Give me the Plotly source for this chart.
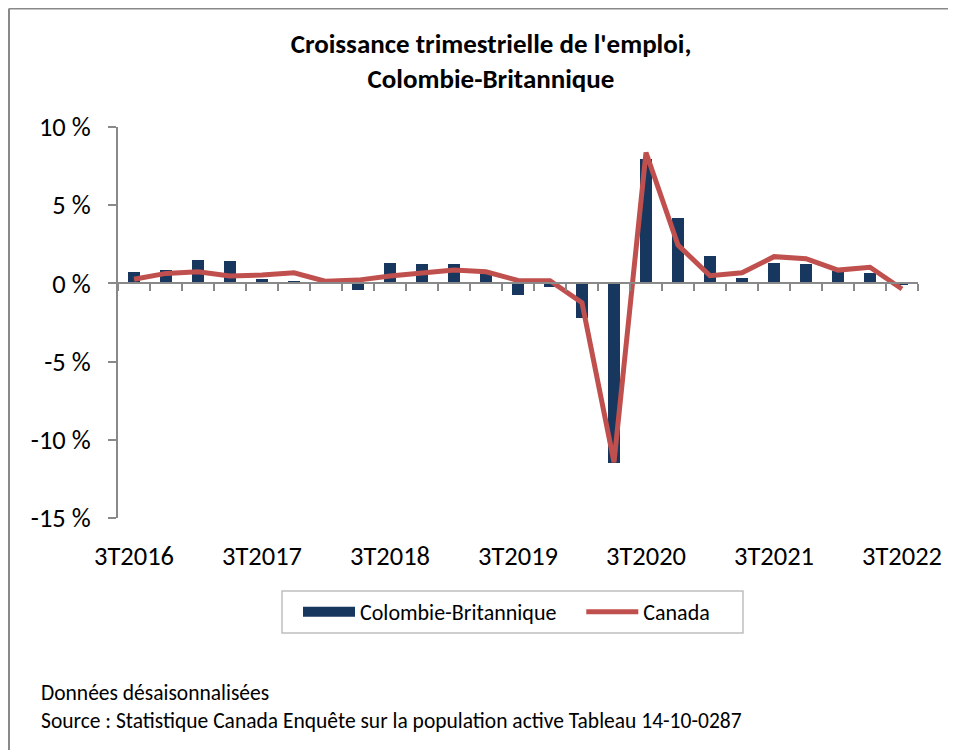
import plotly.graph_objects as go

quarters = ["3T2016", "4T2016", "1T2017", "2T2017", "3T2017", "4T2017", "1T2018", "2T2018",
            "3T2018", "4T2018", "1T2019", "2T2019", "3T2019", "4T2019", "1T2020", "2T2020",
            "3T2020", "4T2020", "1T2021", "2T2021", "3T2021", "4T2021", "1T2022", "2T2022",
            "3T2022"]
cb_values = [0.74, 0.85, 1.49, 1.45, 0.30, 0.15, 0.05, -0.43, 1.28, 1.22, 1.22, 0.60,
             -0.77, -0.20, -2.18, -11.5, 7.95, 4.17, 1.75, 0.35, 1.32, 1.24, 0.80, 0.64, -0.10]
canada_values = [0.26, 0.64, 0.74, 0.47, 0.53, 0.68, 0.13, 0.21, 0.47, 0.64, 0.85, 0.74,
                 0.19, 0.17, -1.24, -11.43, 8.37, 2.45, 0.49, 0.68, 1.71, 1.58, 0.85, 1.03, -0.36]
tick_labels = ["3T2016", "3T2017", "3T2018", "3T2019", "3T2020", "3T2021", "3T2022"]
y_ticks = [10, 5, 0, -5, -10, -15]
y_tick_labels = ["10 %", "5 %", "0 %", "-5 %", "-10 %", "-15 %"]

idx = list(range(len(quarters)))
label_pos = [quarters.index(t) for t in tick_labels]
boundaries = [i - 0.5 for i in range(len(quarters) + 1)]

FONT = "Carlito, Calibri, Lato, sans-serif"
GRAY = "#898989"
NAVY = "#17375E"
RED = "#C0504D"

# the page body has an 8px margin: figure coords = page coords - 8
OFF = 8
W, H = 956 - OFF, 750 - OFF
L, T = 118 - OFF, 127 - OFF
R = W - (918 - OFF)
B = H - (518 - OFF)


def px(x):
    return (x - OFF - L) / (W - L - R)


def py(y):
    return (H - B - (y - OFF)) / (H - T - B)


fig = go.Figure()
fig.add_trace(go.Bar(x=idx, y=cb_values, name="Colombie-Britannique", showlegend=False,
                     marker=dict(color=NAVY, line=dict(width=0)), width=0.38))
fig.add_trace(go.Scatter(x=idx, y=canada_values, name="Canada", mode="lines", showlegend=False,
                         line=dict(color=RED, width=5)))
# legend entries (swatches shaped like the original legend)
fig.add_trace(go.Scatter(x=[None], y=[None], name="Colombie-Britannique\u00a0\u00a0\u00a0\u00a0",
                         mode="lines", line=dict(color=NAVY, width=10), hoverinfo="skip"))
fig.add_trace(go.Scatter(x=[None], y=[None], name="Canada", mode="lines",
                         line=dict(color=RED, width=5), hoverinfo="skip"))
fig.add_trace(go.Scatter(x=[None], y=[None], xaxis="x2", showlegend=False, hoverinfo="skip"))

fig.update_layout(
    width=W, height=H,
    margin=dict(l=L, r=R, t=T, b=B, pad=0, autoexpand=False),
    paper_bgcolor="white", plot_bgcolor="white",
    font=dict(family=FONT, color="black"),
    title=dict(text="<b>Croissance trimestrielle de l'emploi,<br>Colombie-Britannique</b>",
               x=px(491), xref="paper", xanchor="center",
               y=1 - (53 - OFF) / H, yref="container", yanchor="middle",
               font=dict(size=27, family=FONT, color="black")),
    bargap=0,
    xaxis=dict(range=[-0.5, len(quarters) - 0.5], tickmode="array", tickvals=label_pos,
               ticktext=tick_labels, showline=False, showgrid=False, zeroline=False,
               ticks="outside", ticklen=14, tickcolor="rgba(0,0,0,0)", automargin=False,
               tickfont=dict(size=26.5, family=FONT, color="black")),
    xaxis2=dict(range=[-0.5, len(quarters) - 0.5], overlaying="x", anchor="free",
                position=0.6, side="bottom", tickmode="array", tickvals=boundaries,
                showticklabels=False, ticks="outside", ticklen=7, tickwidth=2,
                tickcolor=GRAY, showline=True, linecolor=GRAY, linewidth=2,
                showgrid=False, zeroline=False, automargin=False),
    yaxis=dict(range=[-15, 10], tickmode="array", tickvals=y_ticks, ticktext=y_tick_labels,
               showline=True, linecolor=GRAY, linewidth=2, ticks="outside", ticklen=8,
               tickwidth=2, tickcolor=GRAY, showgrid=False, zeroline=False,
               ticklabelstandoff=12, automargin=False,
               tickfont=dict(size=26.5, family=FONT, color="black")),
    legend=dict(orientation="h", x=px(298), xanchor="left",
                y=py(612), yanchor="middle",
                bgcolor="rgba(0,0,0,0)", borderwidth=0,
                font=dict(size=22, family=FONT, color="black"),
                itemwidth=52, tracegroupgap=0),
    annotations=[
        dict(text="Données désaisonnalisées", xref="paper", yref="paper",
             x=px(39), y=py(693), xanchor="left", yanchor="middle",
             showarrow=False, font=dict(size=21.5, family=FONT, color="black")),
        dict(text="Source : Statistique Canada Enquête sur la population active Tableau 14-10-0287",
             xref="paper", yref="paper",
             x=px(39), y=py(721), xanchor="left", yanchor="middle",
             showarrow=False, font=dict(size=21.5, family=FONT, color="black")),
    ],
    shapes=[
        dict(type="rect", xref="paper", yref="paper",
             x0=px(282), y0=py(591), x1=px(743), y1=py(633),
             line=dict(color="#BFBFBF", width=1.5), fillcolor="rgba(0,0,0,0)"),
        dict(type="line", xref="paper", yref="paper",
             x0=px(9), y0=py(8.5), x1=px(9), y1=py(770),
             line=dict(color=GRAY, width=2)),
        dict(type="line", xref="paper", yref="paper",
             x0=px(9), y0=py(8.5), x1=px(970), y1=py(8.5),
             line=dict(color=GRAY, width=2)),
    ],
)

fig.write_html("out.html")
